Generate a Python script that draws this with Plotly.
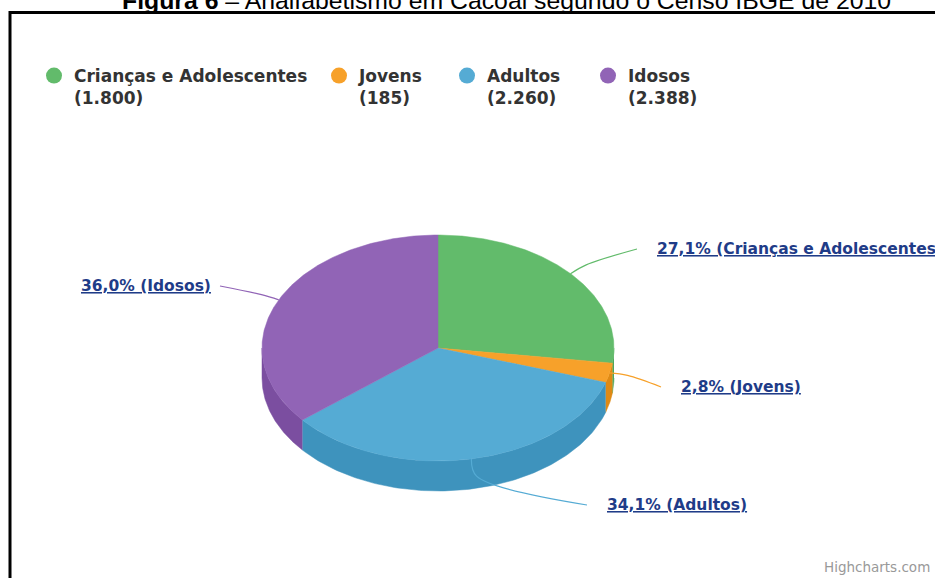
import numpy as np
import plotly.graph_objects as go

# ---------------- data ----------------
categories = ["Crianças e Adolescentes", "Jovens", "Adultos", "Idosos"]
values = [1800, 185, 2260, 2388]
title_text = "<b>Figura 6</b> – Analfabetismo em Cacoal segundo o Censo IBGE de 2010"
credit_text = "Highcharts.com"

# ---------------- style ----------------
top_colors = ["#62BB6B", "#F7A12A", "#55ABD4", "#9164B6"]
side_colors = ["#4FA659", "#DF8A14", "#3E93BD", "#7B4EA0"]
label_color = "#1F3C88"

W, H = 935, 578
CX, CY = 438, 348          # pie centre in px
RX = 176                   # px per radius unit
TILT = 113 / 176           # vertical squash of the tilted pie
DEPTH = 30 / 176           # thickness of the pie

# label anchors (px) and side
label_layout = [(655, 249, "left"), (679, 387, "left"), (605, 505, "left"), (213, 286, "right")]
legend_marker_x = [54, 339, 467, 608]


def ux(px):
    return (px - CX) / RX


def uy(py):
    return (CY - py) / RX


total = sum(values)
fracs = [v / total for v in values]
cum = np.cumsum([0] + fracs)
starts = cum[:-1] * 2 * np.pi
ends = cum[1:] * 2 * np.pi

fig = go.Figure()

# side walls (front half only)
for i in range(len(values)):
    a = max(starts[i], np.pi / 2)
    b = min(ends[i], 3 * np.pi / 2)
    if a < b:
        th = np.linspace(a, b, 120)
        xs = np.concatenate([np.sin(th), np.sin(th[::-1])])
        ys = np.concatenate([np.cos(th) * TILT, np.cos(th[::-1]) * TILT - DEPTH])
        fig.add_trace(go.Scatter(x=xs, y=ys, fill="toself", mode="lines",
                                 fillcolor=side_colors[i],
                                 line=dict(color=side_colors[i], width=0.5),
                                 hoverinfo="skip", showlegend=False))

# top faces
for i in range(len(values)):
    th = np.linspace(starts[i], ends[i], 200)
    xs = np.concatenate([[0], np.sin(th), [0]])
    ys = np.concatenate([[0], np.cos(th) * TILT, [0]])
    fig.add_trace(go.Scatter(x=xs, y=ys, fill="toself", mode="lines",
                             fillcolor=top_colors[i],
                             line=dict(color=top_colors[i], width=0.5),
                             name=categories[i],
                             hovertemplate=f"{categories[i]}: {values[i]}<extra></extra>",
                             showlegend=False))

# connectors and labels
annotations = []
for i in range(len(values)):
    m = (starts[i] + ends[i]) / 2
    px0 = np.sin(m)
    py0 = np.cos(m) * TILT
    d = np.array([np.sin(m), np.cos(m) * TILT])
    d = d / np.hypot(*d) * (18 / RX)
    lx, ly, side = label_layout[i]
    ex = ux(lx - 18) if side == "left" else ux(lx + 7)
    ey = uy(ly)
    fig.add_trace(go.Scatter(x=[px0, px0 + d[0], ex], y=[py0, py0 + d[1], ey],
                             mode="lines", line=dict(color=top_colors[i], width=1.2, shape="spline"),
                             hoverinfo="skip", showlegend=False))
    pct = f"{fracs[i] * 100:.1f}".replace(".", ",")
    annotations.append(dict(x=ux(lx), y=uy(ly), xref="x", yref="y",
                            text=f"<u>{pct}% ({categories[i]})</u>", showarrow=False,
                            xanchor=side, yanchor="middle",
                            font=dict(family="DejaVu Sans", size=15.5, color=label_color, weight="bold")))

# legend entries
legend_names = ["legend", "legend2", "legend3", "legend4"]
for i in range(len(values)):
    num = f"{values[i]:,}".replace(",", ".")
    fig.add_trace(go.Scatter(x=[None], y=[None], mode="markers",
                             marker=dict(size=16, color=top_colors[i]),
                             name=f"{categories[i]}<br>({num})",
                             legend=legend_names[i], showlegend=True))

annotations.append(dict(x=506.5 / W, y=1.0, xref="paper", yref="paper", text=title_text,
                        showarrow=False, xanchor="center", yanchor="middle",
                        font=dict(family="Liberation Sans", size=24.8, color="#000000")))
annotations.append(dict(x=932 / W, y=1 - 567 / H, xref="paper", yref="paper", text=credit_text,
                        showarrow=False, xanchor="right", yanchor="middle",
                        font=dict(family="DejaVu Sans", size=13.5, color="#999999")))

layout_legends = {}
for i, nm in enumerate(legend_names):
    layout_legends[nm] = dict(x=(legend_marker_x[i] - 20) / W, y=1 - 58 / H,
                              xanchor="left", yanchor="top", bgcolor="rgba(0,0,0,0)",
                              borderwidth=0, valign="top", itemclick=False, itemdoubleclick=False,
                              font=dict(family="DejaVu Sans", size=17, color="#333333", weight="bold"))

fig.update_layout(
    width=W, height=H, margin=dict(l=0, r=0, t=0, b=0),
    paper_bgcolor="white", plot_bgcolor="white",
    xaxis=dict(range=[ux(0), ux(W)], visible=False, fixedrange=True),
    yaxis=dict(range=[uy(H), uy(0)], visible=False, fixedrange=True),
    annotations=annotations,
    shapes=[dict(type="rect", xref="paper", yref="paper",
                 x0=10 / W, x1=1.05, y0=-0.05, y1=1 - 12.5 / H,
                 line=dict(color="black", width=3), layer="above")],
    **layout_legends,
)

fig.write_html("out.html")
